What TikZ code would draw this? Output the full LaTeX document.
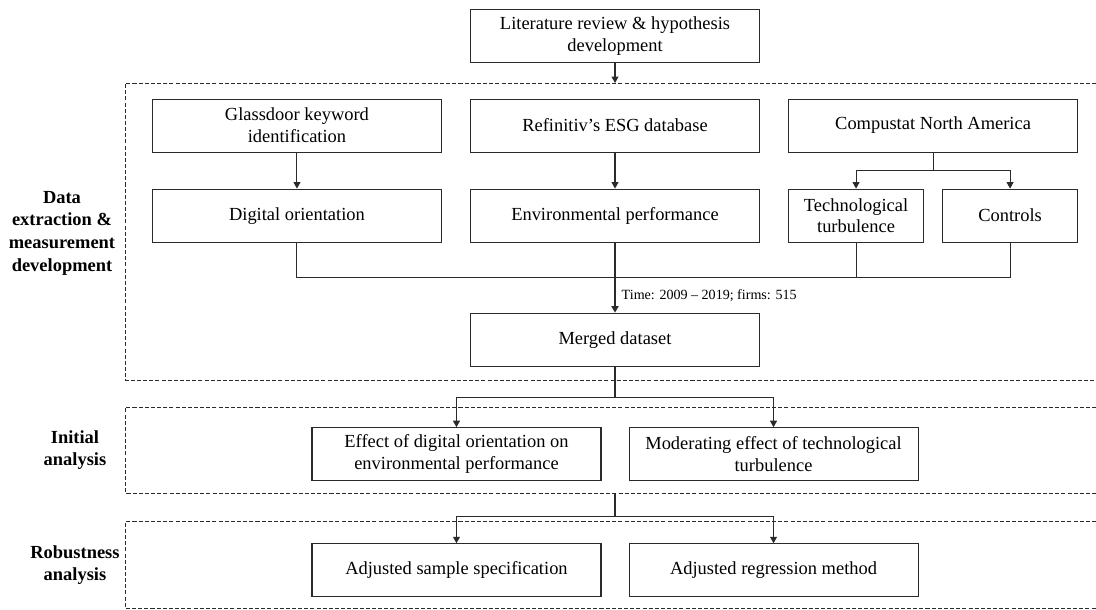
\documentclass[tikz,border=0pt]{standalone}
\usepackage{fontspec}
\setmainfont{Liberation Serif}
\usetikzlibrary{arrows.meta,positioning,calc}
\definecolor{linec}{HTML}{2B2B2B}
\tikzset{
  blk/.style={draw=linec, line width=0.6pt, minimum width=57.8mm, minimum height=10.6mm, inner sep=2pt, align=center, font=\fontsize{10.5}{12.4}\selectfont},
  sblk/.style={blk, minimum width=27mm},
  arr/.style={-{Triangle[length=1.3mm,width=1.4mm]}, line width=0.6pt, draw=linec},
  lnk/.style={line width=0.6pt, draw=linec},
  frm/.style={draw=linec, line width=0.5pt, dash pattern=on 2.3pt off 1.2pt},
  lbl/.style={align=center, font=\bfseries\fontsize{10.5}{12.9}\selectfont},
}
\begin{document}
\begin{tikzpicture}[node distance=7mm]
  \useasboundingbox (0,0) rectangle (21.92,-12.18);
  % dashed stage frames (open on the right)
  \coordinate (f1a) at (21.92,-1.66);  \coordinate (f1b) at (2.506,-7.6);
  \coordinate (f2a) at (21.92,-8.146); \coordinate (f2b) at (2.506,-9.866);
  \coordinate (f3a) at (21.92,-10.434); \coordinate (f3b) at (2.506,-12.166);
  \draw[frm] (f1a) -| (f1b) -- (f1b -| f1a);
  \draw[frm] (f2a) -| (f2b) -- (f2b -| f2a);
  \draw[frm] (f3a) -| (f3b) -- (f3b -| f3a);
  \node[lbl] (lbdata) at (1.24,-4.66) {Data\\extraction \&\\measurement\\development};
  \node[lbl] (lbinit) at (1.5,-9.0) {Initial\\analysis};
  \node[lbl] (lbrob) at (1.5,-11.3) {Robustness\\analysis};
  \node[blk] (lit) at (12.3,-0.72) {Literature review \& hypothesis\\development};
  \node[blk, below=7.1mm of lit] (refin) {Refinitiv's ESG database};
  \node[blk, left=5.6mm of refin] (glass) {Glassdoor keyword\\identification};
  \node[blk, right=5.6mm of refin] (comp) {Compustat North America};
  \node[blk, below=7.2mm of refin] (envp) {Environmental performance};
  \node[blk, below=7.2mm of glass] (digor) {Digital orientation};
  \node[sblk, below=7.2mm of comp.south west, anchor=north west] (tech) {Technological\\turbulence};
  \node[sblk, below=7.2mm of comp.south east, anchor=north east] (ctrl) {Controls};
  \node[blk, below=14mm of envp] (merged) {Merged dataset};
  \node[blk, anchor=north east] (effect) at ([xshift=-2.7mm, yshift=-12.1mm]merged.south) {Effect of digital orientation on\\environmental performance};
  \node[blk, right=5.4mm of effect] (moder) {Moderating effect of technological\\turbulence};
  \node[blk, below=12.4mm of effect] (adjs) {Adjusted sample specification};
  \node[blk, below=12.4mm of moder] (adjr) {Adjusted regression method};
  \draw[arr] (lit) -- (lit |- f1a);
  \draw[arr] (glass) -- (digor);
  \draw[arr] (refin) -- (envp);
  \coordinate[below=3.6mm of comp.south] (cbr);
  \draw[lnk] (comp) -- (cbr);
  \draw[arr] (cbr) -| (tech.north);
  \draw[arr] (cbr) -| (ctrl.north);
  \coordinate (mrg) at ($(envp.south)+(0,-7mm)$);
  \draw[lnk] (digor.south) |- (mrg) -| (ctrl.south);
  \draw[lnk] (tech.south) -- (tech.south |- mrg);
  \draw[lnk] (envp) -- (mrg);
  \draw[arr, line width=1pt] (mrg) -- (merged)
    node[midway, right, font=\fontsize{8}{9.6}\selectfont] (tlabel) {Time: 2009 -- 2019; firms: 515};
  \coordinate[below=6.1mm of merged.south] (br1);
  \draw[lnk] (merged) -- (br1);
  \draw[arr] (br1) -| (effect.north);
  \draw[arr] (br1) -| (moder.north);
  \coordinate (br2top) at (merged.south |- f2b);
  \coordinate (br2) at ($(br2top)+(0,-4.7mm)$);
  \draw[lnk] (br2top) -- (br2);
  \draw[arr] (br2) -| (adjs.north);
  \draw[arr] (br2) -| (adjr.north);
\end{tikzpicture}
\end{document}
